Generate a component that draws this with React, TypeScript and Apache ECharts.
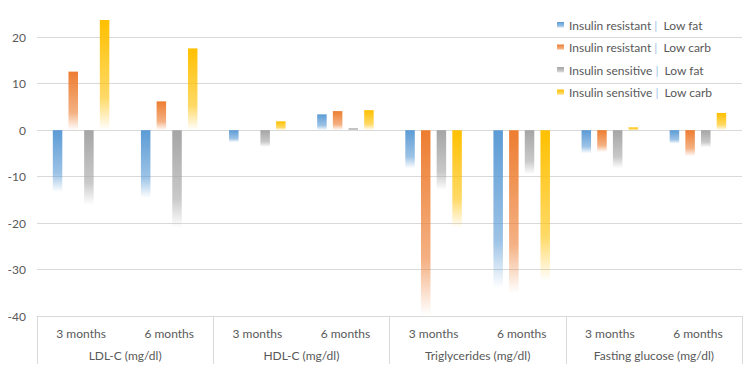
import React, { useEffect, useRef } from "react";
import * as echarts from "echarts";

const categories = ["3 months", "6 months", "3 months", "6 months", "3 months", "6 months", "3 months", "6 months"];
const groups = ["LDL-C (mg/dl)", "HDL-C (mg/dl)", "Triglycerides (mg/dl)", "Fasting glucose (mg/dl)"];
const seriesNames = [
  "Insulin resistant|Low fat",
  "Insulin resistant|Low carb",
  "Insulin sensitive|Low fat",
  "Insulin sensitive|Low carb",
];
const irLowFat = [-13.3, -14.6, -2.6, 3.4, -8.2, -34.0, -5.0, -2.9];
const irLowCarb = [12.6, 6.2, 0, 4.1, -39.8, -35.1, -4.7, -5.6];
const isLowFat = [-16.1, -21.0, -3.6, 0.4, -12.9, -9.5, -8.2, -3.7];
const isLowCarb = [23.7, 17.6, 1.9, 4.3, -21.1, -32.5, 0.6, 3.7];
const yTicks = { min: -40, max: 25, interval: 10 };

const colors = ["#5B9BD5", "#ED7D31", "#A5A5A5", "#FFC000"];
const FONT = "Lato, 'Liberation Sans', sans-serif";

function rgba(hex: string, a: number) {
  const r = parseInt(hex.slice(1, 3), 16);
  const g = parseInt(hex.slice(3, 5), 16);
  const b = parseInt(hex.slice(5, 7), 16);
  return `rgba(${r},${g},${b},${a})`;
}
function grad(c: string) {
  return new echarts.graphic.LinearGradient(0, 0, 0, 1, [
    { offset: 0, color: rgba(c, 1) },
    { offset: 0.7, color: rgba(c, 0.6) },
    { offset: 1, color: rgba(c, 0) },
  ]);
}

export default function App() {
  const ref = useRef<HTMLDivElement>(null);
  useEffect(() => {
    if (!ref.current) return;
    const chart = echarts.init(ref.current, null, { renderer: "svg" });
    const data = [irLowFat, irLowCarb, isLowFat, isLowCarb];
    chart.setOption({
      animation: false,
      textStyle: { fontFamily: FONT },
      grid: { left: 37, right: 14, top: 14, bottom: 54, containLabel: false },
      legend: {
        orient: "vertical",
        left: 552,
        top: 14,
        itemWidth: 7,
        itemHeight: 6,
        itemGap: 10.5,
        icon: "rect",
        data: seriesNames,
        formatter: (name: string) => {
          const [a, b] = name.split("|");
          return `{t|${a} }{p||}{t|  ${b}}`;
        },
        textStyle: {
          fontFamily: FONT,
          rich: {
            t: { fontSize: 12, color: "#595959", fontFamily: FONT },
            p: { fontSize: 12, color: "#9DC3E6", fontFamily: FONT },
          },
        },
      },
      xAxis: [
        {
          type: "category",
          data: categories,
          axisLine: { show: false },
          axisTick: { show: false },
          axisLabel: { interval: 0, margin: 11, fontSize: 12, color: "#595959", fontFamily: FONT },
        },
        {
          type: "category",
          data: groups,
          position: "bottom",
          axisLine: { show: true, lineStyle: { color: "#D9D9D9", width: 1 } },
          axisTick: { show: true, length: 48, lineStyle: { color: "#D9D9D9", width: 1 } },
          axisLabel: { interval: 0, margin: 33, fontSize: 12, color: "#595959", fontFamily: FONT },
        },
      ],
      yAxis: {
        type: "value",
        min: yTicks.min,
        max: yTicks.max,
        interval: yTicks.interval,
        axisLine: { show: false },
        axisTick: { show: false },
        axisLabel: { showMaxLabel: false, margin: 11, fontSize: 12, color: "#595959", fontFamily: FONT },
        splitLine: { showMaxLine: false, lineStyle: { color: "#D9D9D9", width: 1 } },
      },
      series: seriesNames.map((n, i) => ({
        name: n,
        type: "bar",
        xAxisIndex: 0,
        data: data[i],
        barWidth: 9.5,
        barGap: "65%",
        itemStyle: { color: grad(colors[i]) },
      })),
    });
    return () => chart.dispose();
  }, []);
  return (
    <div
      ref={ref}
      style={{ position: "fixed", left: 0, top: 0, width: 756, height: 370, background: "#fff" }}
    />
  );
}
